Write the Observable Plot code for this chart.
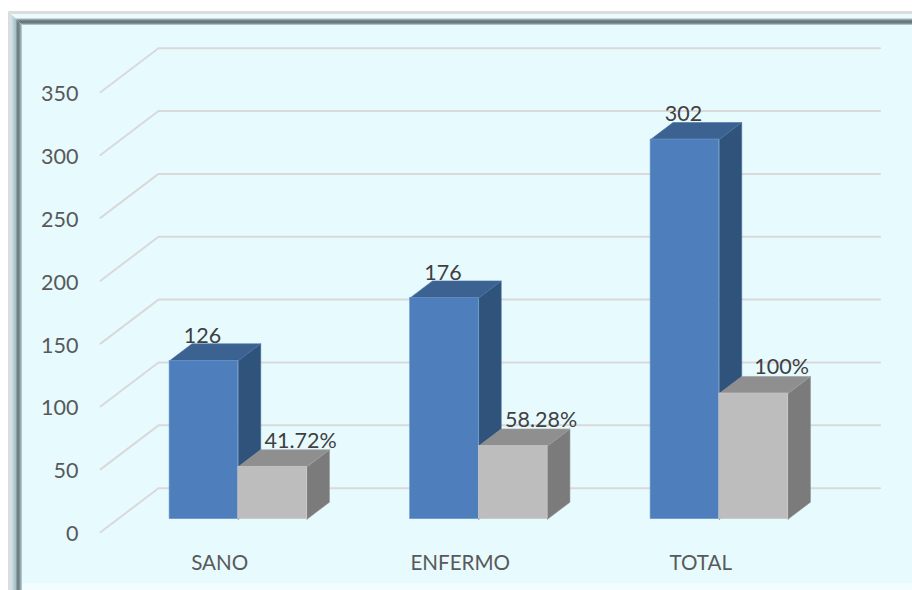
<!DOCTYPE html>
<html>
<head>
<meta charset="utf-8">
<script src="https://cdn.jsdelivr.net/npm/d3@7"></script>
<script src="https://cdn.jsdelivr.net/npm/@observablehq/plot@0.6"></script>
<style>
  html, body { margin: 0; padding: 0; background: #fff; }
  #stage { position: relative; width: 912px; height: 590px; overflow: hidden; }
  #stage > div, #stage > svg { position: absolute; }
  .below { left: 22px; right: 0; top: 583px; bottom: 0; background: #f3fdff; }
  .panel { left: 22px; right: 0; top: 24px; height: 559px; background: #e7fbff; }
  .bevel-top {
    left: 8px; right: 0; top: 11px; height: 14px;
    background: linear-gradient(to bottom, #dcdcdc 0 3px, #ebfbfe 3px 7px, #a9b8bc 8px, #67757b 10px, #6d7b81 12px, #c5d8dc 14px);
    clip-path: polygon(0 0, 100% 0, 100% 100%, 14px 100%);
  }
  .bevel-left {
    left: 8px; width: 14px; top: 11px; bottom: 0;
    background: linear-gradient(to right, #dcdcdc 0 2px, #d3e6ea 3px, #a5bcc2 8px, #6f8086 9px, #6f8086 11px, #bfd3d8 14px);
    clip-path: polygon(0 0, 100% 14px, 100% 100%, 0 100%);
  }
</style>
</head>
<body>
<div id="stage">
  <div class="below"></div>
  <div class="panel"></div>
  <div class="bevel-top"></div>
  <div class="bevel-left"></div>
</div>
<script>
// Values per group
const categories = ["SANO", "ENFERMO", "TOTAL"];
const counts = [126, 176, 302];
const percents = [41.72, 58.28, 100];
const yTicks = [0, 50, 100, 150, 200, 250, 300, 350];

// Oblique projection: how far the full floor depth shifts a point, in scale units
const shiftX = 58 / 240.5;
const shiftY = 44 / 1.257;
const project = (x, y, depth) => ({x: x + shiftX * depth, y: y + shiftY * depth});

// Placement of the bars inside each category slot and on the floor
const barStart = 0.216;
const barWidth = 0.2857;
const frontDepth = 13 / 44;
const backDepth = 30 / 44;

// Back wall and left wall gridlines, one polyline per tick
const gridPoints = yTicks.flatMap((v) => [
  {tick: v, ...project(0, v, 0)},
  {tick: v, ...project(0, v, 1)},
  {tick: v, ...project(categories.length, v, 1)}
]);

// Turn a list of corners per bar into closed polygons for Plot.line
const closed = (corners) =>
  corners.flatMap((points, bar) => [...points, points[0]].map((p) => ({bar, ...p})));

function prism(values, slotOffset, colors) {
  const left = (i) => i + barStart + slotOffset;
  const right = (i) => left(i) + barWidth;
  const side = closed(values.map((v, i) => [
    project(right(i), 0, frontDepth),
    project(right(i), 0, backDepth),
    project(right(i), v, backDepth),
    project(right(i), v, frontDepth)
  ]));
  const top = closed(values.map((v, i) => [
    project(left(i), v, frontDepth),
    project(right(i), v, frontDepth),
    project(right(i), v, backDepth),
    project(left(i), v, backDepth)
  ]));
  const front = values.map((v, i) => {
    const a = project(left(i), 0, frontDepth);
    const b = project(right(i), v, frontDepth);
    return {x1: a.x, x2: b.x, y1: a.y, y2: b.y};
  });
  const face = (fill, edge) => ({x: "x", y: "y", z: "bar", fill, stroke: edge, strokeWidth: 0.6});
  return [
    Plot.line(side, face(colors.side, colors.sideEdge)),
    Plot.line(top, face(colors.top, colors.topEdge)),
    Plot.rect(front, {x1: "x1", x2: "x2", y1: "y1", y2: "y2", fill: colors.front, stroke: colors.frontEdge, strokeWidth: 0.6})
  ];
}

const blue = {front: "#4e7fbc", side: "#30537c", top: "#3b6290", frontEdge: "#6f9ace", sideEdge: "#3d648f", topEdge: "#4a74a6"};
const gray = {front: "#bdbdbd", side: "#7b7b7b", top: "#8f8f8f", frontEdge: "#c9c9c9", sideEdge: "#8d8d8d", topEdge: "#a0a0a0"};

const valueFont = {fontFamily: "Lato, sans-serif", fontSize: 21.5, fill: "#404040"};

const chart = Plot.plot({
  width: 912,
  height: 590,
  marginLeft: 100,
  marginRight: 90.5,
  marginTop: 91.7,
  marginBottom: 58.3,
  style: {background: "transparent", overflow: "visible"},
  x: {domain: [0, categories.length], axis: null},
  y: {domain: [0, 350], axis: null},
  marks: [
    Plot.line(gridPoints, {x: "x", y: "y", z: "tick", stroke: "#d9d9d9", strokeWidth: 2}),
    ...prism(counts, 0, blue),
    ...prism(percents, barWidth, gray),
    Plot.axisY({
      ticks: yTicks,
      anchor: "left",
      tickSize: 0,
      tickPadding: 22,
      dy: 2,
      label: null,
      fontFamily: "Lato, sans-serif",
      fontSize: 21.5,
      color: "#595959"
    }),
    Plot.text(categories, {
      x: (d, i) => i + 0.5,
      y: () => 0,
      dx: -1,
      dy: 31,
      text: (d) => d,
      fontFamily: "Lato, sans-serif",
      fontSize: 20.6,
      fill: "#595959"
    }),
    Plot.text(counts, {
      x: (d, i) => i + barStart + barWidth / 2 + shiftX * frontDepth,
      y: (d) => d + shiftY * frontDepth,
      dx: -1.5,
      dy: -25,
      text: (d) => `${d}`,
      ...valueFont
    }),
    Plot.text(percents, {
      x: (d, i) => i + barStart + barWidth * 1.5 + shiftX * frontDepth + 28 / 240.5,
      y: (d) => d + shiftY * frontDepth,
      dy: -26,
      text: (d) => `${d}%`,
      ...valueFont
    })
  ]
});

chart.style.left = "0";
chart.style.top = "0";
document.getElementById("stage").appendChild(chart);
</script>
</body>
</html>
